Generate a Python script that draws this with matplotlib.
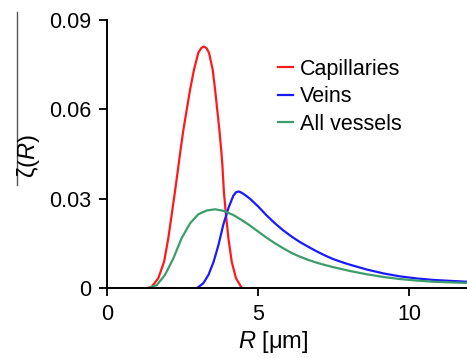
import numpy as np
import matplotlib
matplotlib.use('Agg')
import matplotlib.pyplot as plt
from matplotlib.lines import Line2D

plt.rcParams['font.family'] = ['Liberation Sans', 'DejaVu Sans']
plt.rcParams['mathtext.fontset'] = 'custom'
plt.rcParams['mathtext.it'] = 'Liberation Sans:italic'
plt.rcParams['mathtext.rm'] = 'Liberation Sans'

# values
r_cap = [1.31, 1.48, 1.70, 1.89, 2.03, 2.14, 2.25, 2.37, 2.42, 2.53, 2.64, 2.75, 2.88, 3.02,
         3.12, 3.21, 3.30, 3.38, 3.50, 3.58, 3.65, 3.72, 3.79, 3.82, 3.87, 3.94, 4.02, 4.13,
         4.27, 4.44]
z_cap = [0.0, 0.0005, 0.0034, 0.0089, 0.0168, 0.0246, 0.0324, 0.0414, 0.0453, 0.0532, 0.0599,
         0.0666, 0.0733, 0.0789, 0.0806, 0.0811, 0.0805, 0.0789, 0.0733, 0.0666, 0.0599,
         0.0532, 0.0453, 0.0414, 0.0324, 0.0246, 0.0168, 0.0089, 0.0034, 0.0005]

r_vein = [2.97, 3.19, 3.36, 3.53, 3.69, 3.85, 4.02, 4.18, 4.27, 4.36, 4.45, 4.57, 4.74,
          5.01, 5.28, 5.56, 5.84, 6.12, 6.39, 6.67, 6.94, 7.22, 7.49, 7.77, 8.05, 8.60,
          9.15, 9.70, 10.26, 10.81, 11.36, 11.92]
z_vein = [0.0, 0.0017, 0.0045, 0.0089, 0.0145, 0.0213, 0.0269, 0.0310, 0.0322, 0.0325,
          0.0321, 0.0313, 0.0300, 0.0274, 0.0245, 0.0218, 0.0194, 0.0173, 0.0155, 0.0139,
          0.0124, 0.0110, 0.0098, 0.0088, 0.0079, 0.0063, 0.0050, 0.0040, 0.0033, 0.0028,
          0.0025, 0.0022]

r_all = [1.37, 1.65, 1.92, 2.20, 2.47, 2.75, 3.02, 3.30, 3.58, 3.85, 4.18, 4.46, 4.74,
         5.01, 5.28, 5.56, 5.84, 6.12, 6.39, 6.67, 6.94, 7.22, 7.49, 8.05, 8.60, 9.15,
         9.70, 10.26, 10.81, 11.36, 11.92]
z_all = [0.0, 0.0011, 0.0045, 0.0101, 0.0168, 0.0218, 0.0248, 0.0261, 0.0265, 0.0260,
         0.0246, 0.0229, 0.0210, 0.0190, 0.0170, 0.0151, 0.0134, 0.0118, 0.0106, 0.0095,
         0.0086, 0.0078, 0.0071, 0.0058, 0.0047, 0.0038, 0.0031, 0.0026, 0.0022, 0.0020,
         0.0018]

xticks = [0, 5, 10]
yticks = [0, 0.03, 0.06, 0.09]
ytick_labels = ['0', '0.03', '0.06', '0.09']

fig = plt.figure(figsize=(4.67, 3.58), dpi=100)
ax = fig.add_axes([107 / 467, 1 - 288.3 / 358, 1 - 107 / 467, 268.3 / 358])

ax.plot(r_cap, z_cap, color='#ff1a1a', lw=1.6, label='Capillaries')
ax.plot(r_vein, z_vein, color='#1a1aff', lw=1.6, label='Veins')
ax.plot(r_all, z_all, color='#3d9c6b', lw=1.6, label='All vessels')

ax.set_xlim(0, 11.92)
ax.set_ylim(0, 0.09)
ax.set_xticks(xticks)
ax.set_xticklabels([str(t) for t in xticks])
ax.set_yticks(yticks)
ax.set_yticklabels(ytick_labels)
for s in ['top', 'right']:
    ax.spines[s].set_visible(False)
for s in ['left', 'bottom']:
    ax.spines[s].set_linewidth(1.4)
    ax.spines[s].set_clip_on(False)
ax.tick_params(direction='out', length=6, width=1.3, labelsize=15.5, pad=5)

ax.set_xlabel('$R$ [μm]', fontsize=17)
ax.xaxis.set_label_coords((273 - 107) / 360, -0.15)

fig.text(29 / 467, 1 - 156 / 358, 'ζ($R$)', rotation=90, fontsize=17,
         ha='center', va='center')
fig.add_artist(Line2D([17 / 467, 17 / 467], [1 - 12 / 358, 1 - 185 / 358],
                      color='#555555', lw=1.0))

ax.legend(loc='upper left', bbox_to_anchor=((278 - 107) / 360, 1 - (59 - 20) / 268.3),
          frameon=False, fontsize=15.5, handlelength=0.7, handletextpad=0.3,
          labelspacing=0.3, borderpad=0, borderaxespad=0)

fig.savefig('out.png', dpi=100)
